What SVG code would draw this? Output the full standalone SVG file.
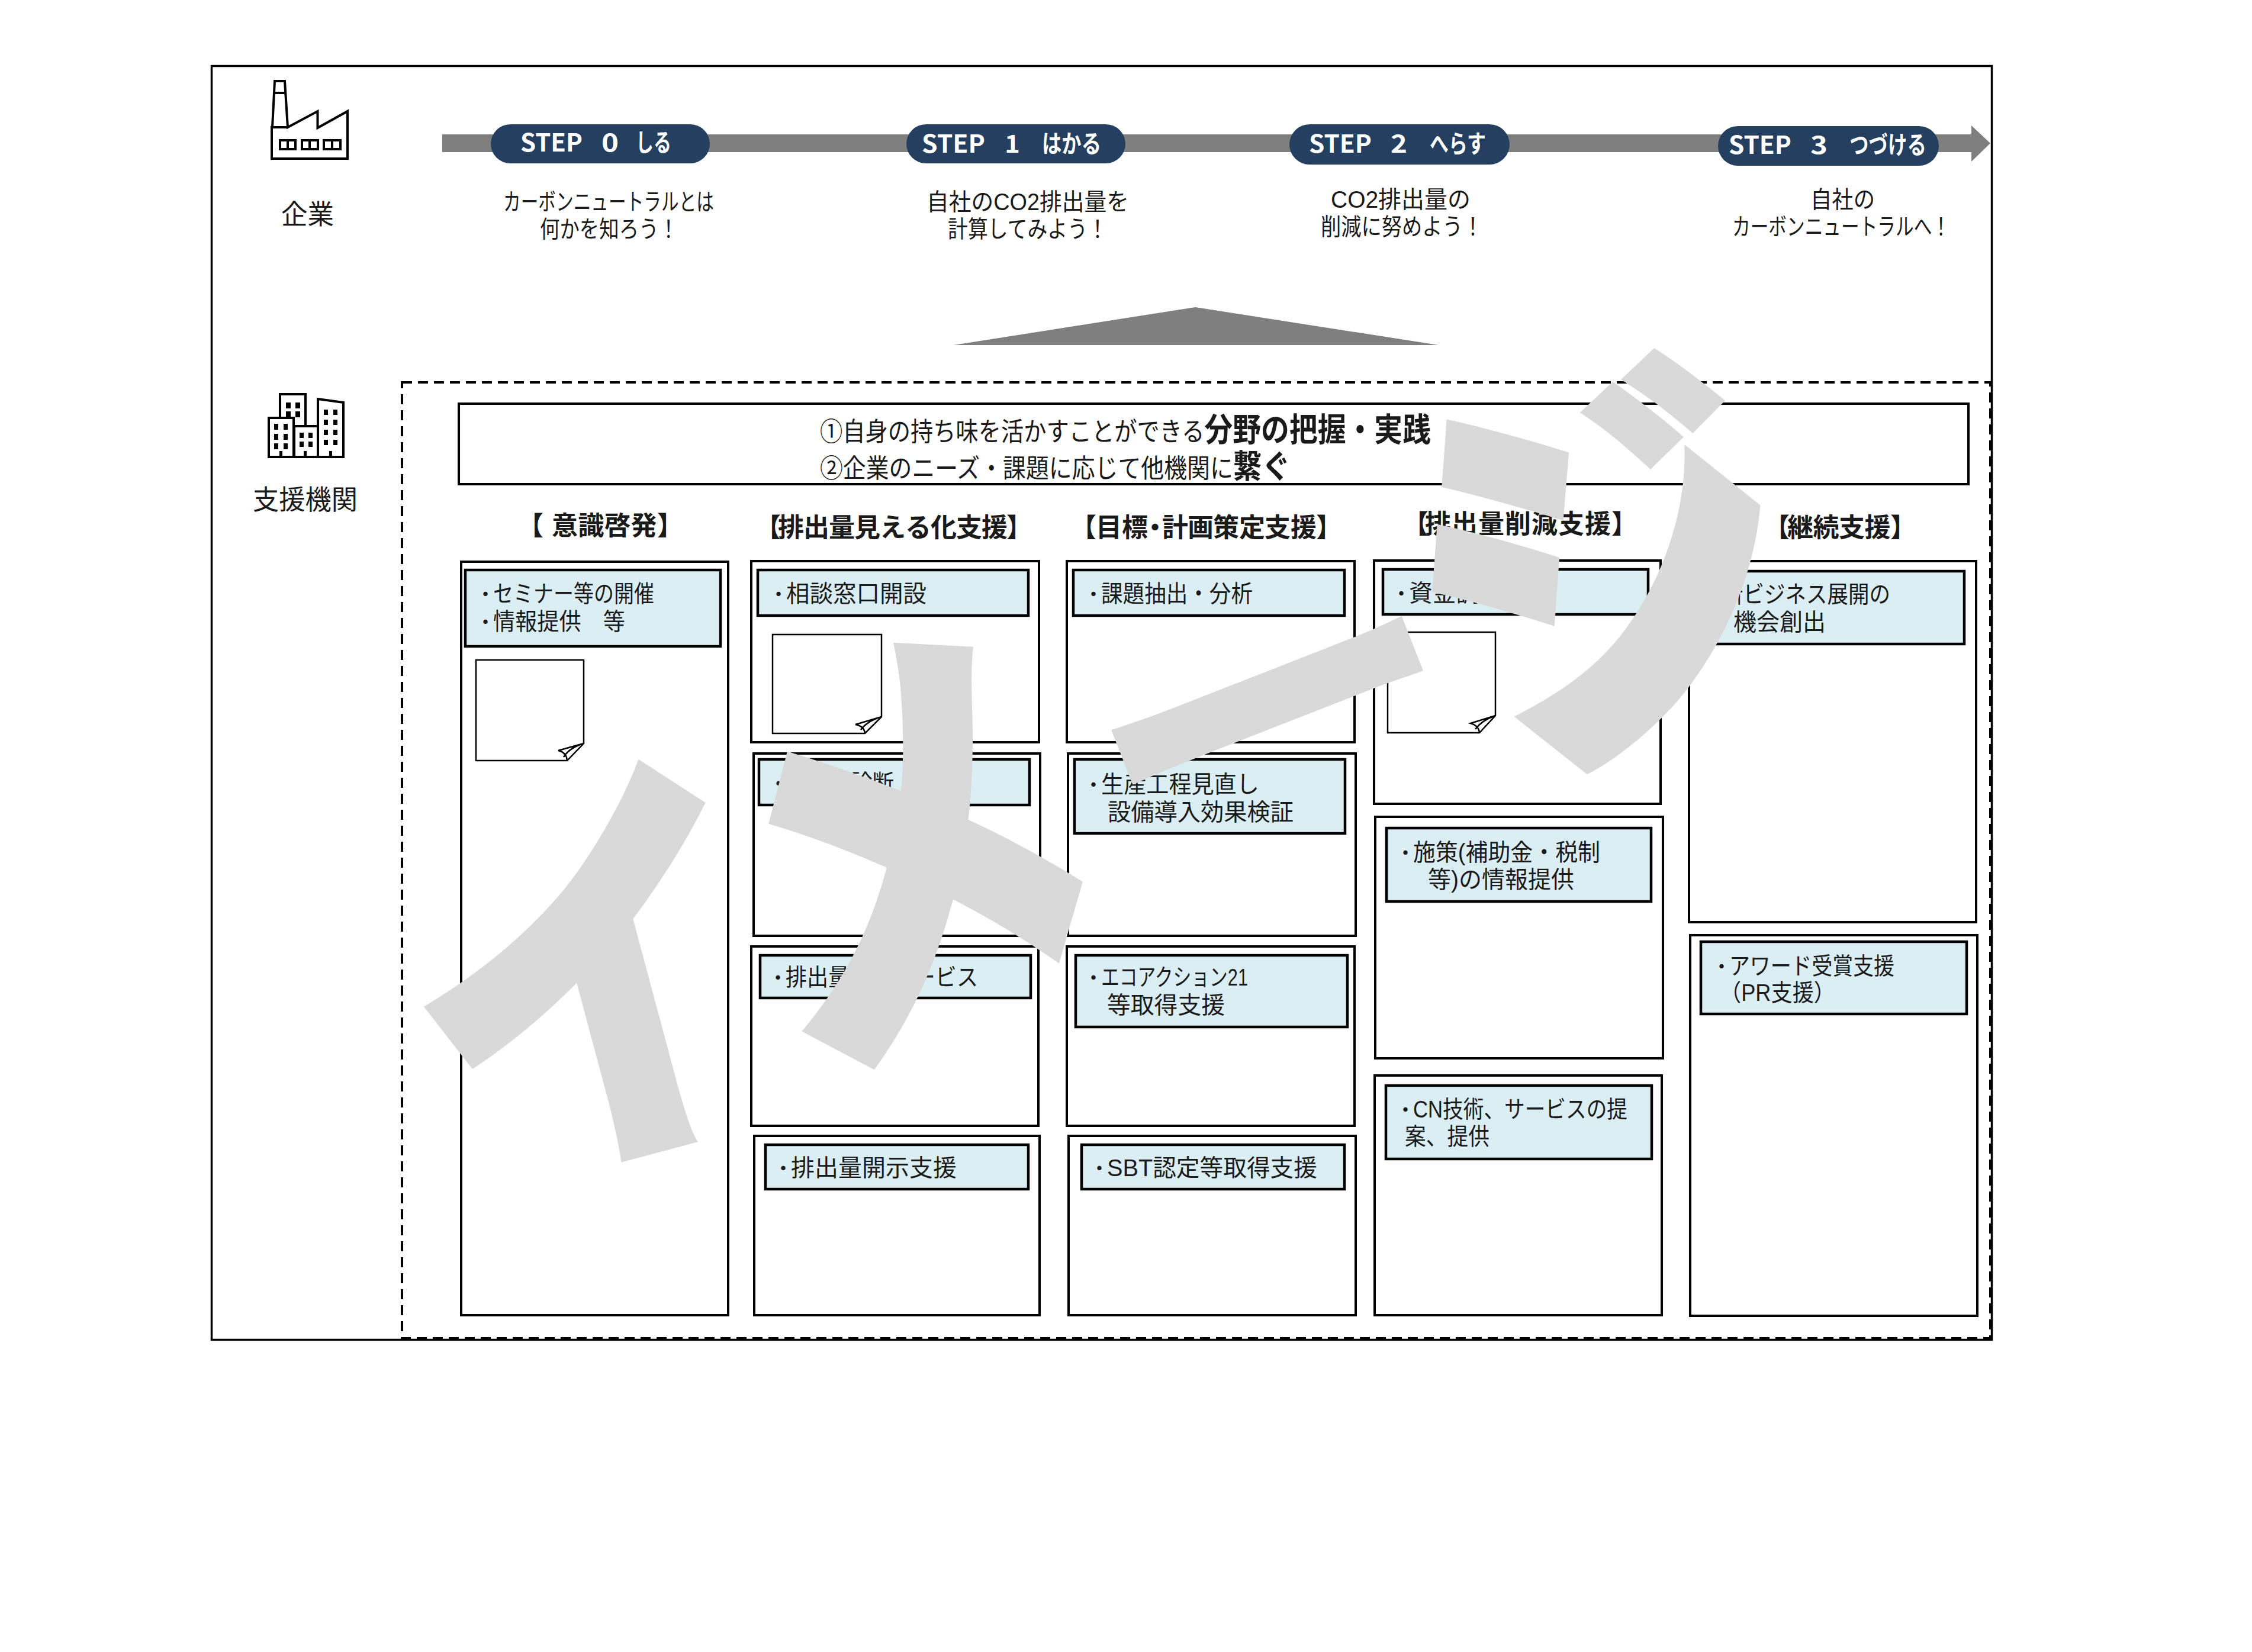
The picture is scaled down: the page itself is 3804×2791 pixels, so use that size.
<svg xmlns="http://www.w3.org/2000/svg" width="3804" height="2791" viewBox="0 0 3804 2791">
<style>
text{font-family:"Liberation Sans","Noto Sans CJK JP","Noto Sans",sans-serif;fill:#1a1a1a;white-space:pre}
.b{font-size:40px}
.d{font-size:26px;font-weight:900;font-family:"Noto Sans CJK JP",sans-serif}
.s{font-size:40px}
.h{font-size:44px;font-weight:700}
.t{font-size:44px}
.tb{font-size:55px;font-weight:700}
.p{font-size:42px;font-weight:700;fill:#fff;font-family:"Noto Sans CJK JP","Noto Sans",sans-serif}
.l{font-size:46px}
.box{fill:#fff;stroke:#000;stroke-width:4}
.blue{fill:#dbeef4;stroke:#000;stroke-width:4.5}
.note{fill:#fff;stroke:#000;stroke-width:2.5}
.fold{fill:none;stroke:#000;stroke-width:2.5}
.pill{fill:#243f60}
.ic{fill:#fff;stroke:#000;stroke-width:4}
.wm{font-size:760px;font-weight:900;fill:#d9d9d9;stroke:#d9d9d9;stroke-width:14;text-anchor:middle;font-family:"Noto Sans CJK JP",sans-serif}
</style>
<rect id="frame" x="357.500" y="111.500" width="3007" height="2152" fill="#fff" stroke="#000" stroke-width="3.500"/>

<g id="company-icon">
<path class="ic" d="M459,268H587V188L536.500,216V188L486,215L481,137H464L460,215H459Z"/>
<path class="ic" d="M462,157H483M460,215H486" fill="none"/>
<path class="ic" d="M473,237H499V252H473ZM510,237H537V252H510ZM547,237H575V252H547ZM486,237V252M523,237V252M561,237V252"/>
</g>
<text id="company-label" class="l" x="475" y="378" textLength="89" lengthAdjust="spacingAndGlyphs">企業</text>

<g id="support-icon">
<path class="ic" d="M473,706V666H516V720M537,772V674L580,680V772ZM454,772V706H496V772ZM497,772V720H537V772Z"/>
<path d="M483,680h8v10h-8zM499,680h8v10h-8zM483,695h8v10h-8zM499,695h8v10h-8zM463,716h7v10h-7zM479,716h7v10h-7zM463,733h7v10h-7zM479,733h7v10h-7zM463,749h7v10h-7zM479,749h7v10h-7zM506,731h7v9h-7zM521,731h7v9h-7zM506,746h7v9h-7zM521,746h7v9h-7zM547,692h7v9h-7zM563,692h7v9h-7zM547,709h7v9h-7zM563,709h7v9h-7zM547,726h7v9h-7zM563,726h7v9h-7zM547,743h7v9h-7zM563,743h7v9h-7zM472,762h5v10h-5zM513,762h5v10h-5zM556,762h5v10h-5z" fill="#000"/>
</g>
<text id="support-label" class="l" x="427" y="860" textLength="177" lengthAdjust="spacingAndGlyphs">支援機関</text>

<g id="timeline">
<path d="M747,227H3330V212L3362,242L3330,273V257H747Z" fill="#7f7f7f"/>
</g>

<g id="step0"><rect class="pill" x="829" y="210" width="370" height="66" rx="33"/>
<text class="p" y="256"><tspan x="879" textLength="105" lengthAdjust="spacingAndGlyphs">STEP</tspan><tspan> </tspan><tspan x="1016" textLength="29" lengthAdjust="spacingAndGlyphs">0</tspan><tspan> </tspan><tspan x="1074" textLength="60" lengthAdjust="spacingAndGlyphs">しる</tspan></text></g>
<g id="step1"><rect class="pill" x="1531" y="210" width="370" height="66" rx="33"/>
<text class="p" y="258"><tspan x="1557" textLength="107" lengthAdjust="spacingAndGlyphs">STEP</tspan><tspan> </tspan><tspan x="1697" textLength="26" lengthAdjust="spacingAndGlyphs">1</tspan><tspan> </tspan><tspan x="1760" textLength="100" lengthAdjust="spacingAndGlyphs">はかる</tspan></text></g>
<g id="step2"><rect class="pill" x="2178" y="210" width="372" height="68" rx="34"/>
<text class="p" y="258"><tspan x="2211" textLength="106" lengthAdjust="spacingAndGlyphs">STEP</tspan><tspan> </tspan><tspan x="2349" textLength="28" lengthAdjust="spacingAndGlyphs">2</tspan><tspan> </tspan><tspan x="2415" textLength="95" lengthAdjust="spacingAndGlyphs">へらす</tspan></text></g>
<g id="step3"><rect class="pill" x="2902" y="213" width="373" height="67" rx="33.500"/>
<text class="p" y="260"><tspan x="2920" textLength="106" lengthAdjust="spacingAndGlyphs">STEP</tspan><tspan> </tspan><tspan x="3058" textLength="29" lengthAdjust="spacingAndGlyphs">3</tspan><tspan> </tspan><tspan x="3124" textLength="130" lengthAdjust="spacingAndGlyphs">つづける</tspan></text></g>

<g id="step-captions">
<text class="s" x="850" y="355" textLength="356" lengthAdjust="spacingAndGlyphs">カーボンニュートラルとは</text>
<text class="s" x="912" y="401" textLength="234" lengthAdjust="spacingAndGlyphs">何かを知ろう！</text>
<text class="s" x="1565" y="355" textLength="342" lengthAdjust="spacingAndGlyphs">自社のCO2排出量を</text>
<text class="s" x="1601" y="401" textLength="270" lengthAdjust="spacingAndGlyphs">計算してみよう！</text>
<text class="s" x="2248" y="351" textLength="236" lengthAdjust="spacingAndGlyphs">CO2排出量の</text>
<text class="s" x="2231" y="397" textLength="274" lengthAdjust="spacingAndGlyphs">削減に努めよう！</text>
<text class="s" x="3058" y="351" textLength="109" lengthAdjust="spacingAndGlyphs">自社の</text>
<text class="s" x="2926" y="397" textLength="368" lengthAdjust="spacingAndGlyphs">カーボンニュートラルへ！</text>
</g>

<path id="up-triangle" d="M2019,519L2430,583H1611Z" fill="#7f7f7f"/>

<rect id="support-area" x="679" y="646" width="2683" height="1615" fill="none" stroke="#000" stroke-width="4" stroke-dasharray="17 10"/>

<g id="summary">
<rect class="box" x="775" y="682" width="2550" height="136"/>
<text class="t" x="1385" y="745" textLength="1032" lengthAdjust="spacingAndGlyphs">①自身の持ち味を活かすことができる<tspan class="tb">分野の把握・実践</tspan></text>
<text class="t" x="1385" y="807" textLength="795" lengthAdjust="spacingAndGlyphs">②企業のニーズ・課題に応じて他機関に<tspan class="tb">繋ぐ</tspan></text>
</g>

<g id="headings">
<text class="h" x="874 932 976.500 1021 1065.500 1110" y="904">【意識啓発】</text>
<text class="h" x="1275 1314 1357 1400 1443 1486 1529 1572 1615 1658 1700" y="907">【排出量見える化支援】</text>
<text class="h" x="1808 1851 1895 1929 1963 2006 2049 2093 2136 2180 2223" y="907">【目標・計画策定支援】</text>
<text class="h" x="2369 2407 2452 2497 2542 2587 2632 2677 2722" y="901">【排出量削減支援】</text>
<text class="h" x="2979 3019 3062.500 3106 3149.500 3193" y="907">【継続支援】</text>
</g>

<g id="c1">
<rect class="box" x="779" y="949" width="451" height="1273"/>
<rect class="blue" x="786" y="963" width="431" height="129"/>
<text class="b"><tspan class="d" x="807" y="1013">・</tspan><tspan x="833" y="1017" textLength="272" lengthAdjust="spacingAndGlyphs">セミナー等の開催</tspan></text>
<text class="b"><tspan class="d" x="807" y="1060">・</tspan><tspan x="833" y="1064" textLength="223" lengthAdjust="spacingAndGlyphs">情報提供　等</tspan></text>
<path class="note" d="M804,1115H986V1256L958,1285H804Z"/>
<path class="fold" d="M986,1256L943,1268Q957,1271 958,1285M986,1256Q962,1263 952,1279"/>
</g>

<g id="c2a">
<rect class="box" x="1269" y="948" width="486" height="306"/>
<rect class="blue" x="1280" y="963" width="457" height="77"/>
<text class="b"><tspan class="d" x="1302" y="1013">・</tspan><tspan x="1328" y="1017" textLength="237" lengthAdjust="spacingAndGlyphs">相談窓口開設</tspan></text>
<path class="note" d="M1305,1072H1489V1211L1461,1239H1305Z"/>
<path class="fold" d="M1489,1211L1445,1224Q1460,1227 1461,1239M1489,1211Q1465,1218 1454,1233"/>
</g>
<g id="c2b">
<rect class="box" x="1273" y="1273" width="484" height="308"/>
<rect class="blue" x="1282" y="1283" width="457" height="77"/>
<text class="b"><tspan class="d" x="1302" y="1333">・</tspan><tspan x="1328" y="1337" textLength="182" lengthAdjust="spacingAndGlyphs">省エネ診断</tspan></text>
</g>
<g id="c2c">
<rect class="box" x="1269" y="1599" width="485" height="303"/>
<rect class="blue" x="1284" y="1614" width="457" height="72"/>
<text class="b"><tspan class="d" x="1301" y="1661">・</tspan><tspan x="1327" y="1665" textLength="325" lengthAdjust="spacingAndGlyphs">排出量算定サービス</tspan></text>
</g>
<g id="c2d">
<rect class="box" x="1274" y="1919" width="482" height="303"/>
<rect class="blue" x="1293" y="1934" width="444" height="75"/>
<text class="b"><tspan class="d" x="1310" y="1983">・</tspan><tspan x="1336" y="1987" textLength="280" lengthAdjust="spacingAndGlyphs">排出量開示支援</tspan></text>
</g>

<g id="c3a">
<rect class="box" x="1802" y="948" width="486" height="306"/>
<rect class="blue" x="1813" y="963" width="458" height="77"/>
<text class="b"><tspan class="d" x="1834" y="1013">・</tspan><tspan x="1860" y="1017" textLength="256" lengthAdjust="spacingAndGlyphs">課題抽出・分析</tspan></text>
</g>
<g id="c3b">
<rect class="box" x="1804" y="1273" width="486" height="308"/>
<rect class="blue" x="1815" y="1283" width="457" height="125"/>
<text class="b"><tspan class="d" x="1834" y="1335">・</tspan><tspan x="1860" y="1339" textLength="267" lengthAdjust="spacingAndGlyphs">生産工程見直し</tspan></text>
<text class="b" x="1871" y="1386" textLength="314" lengthAdjust="spacingAndGlyphs">設備導入効果検証</text>
</g>
<g id="c3c">
<rect class="box" x="1802" y="1599" width="486" height="303"/>
<rect class="blue" x="1817" y="1614" width="459" height="121"/>
<text class="b"><tspan class="d" x="1834" y="1661">・</tspan><tspan x="1860" y="1665" textLength="248" lengthAdjust="spacingAndGlyphs">エコアクション21</tspan></text>
<text class="b" x="1870" y="1712" textLength="199" lengthAdjust="spacingAndGlyphs">等取得支援</text>
</g>
<g id="c3d">
<rect class="box" x="1805" y="1919" width="485" height="303"/>
<rect class="blue" x="1827" y="1934" width="444" height="75"/>
<text class="b"><tspan class="d" x="1844" y="1983">・</tspan><tspan x="1870" y="1987" textLength="355" lengthAdjust="spacingAndGlyphs">SBT認定等取得支援</tspan></text>
</g>

<g id="c4a">
<rect class="box" x="2321" y="947" width="484" height="411"/>
<rect class="blue" x="2336" y="962" width="448" height="76"/>
<text class="b"><tspan class="d" x="2354" y="1012">・</tspan><tspan x="2380" y="1016" textLength="239" lengthAdjust="spacingAndGlyphs">資金調達支援</tspan></text>
<path class="note" d="M2344,1068H2526V1209L2499,1238H2344Z"/>
<path class="fold" d="M2526,1209L2484,1222Q2498,1226 2499,1238M2526,1209Q2503,1217 2492,1232"/>
</g>
<g id="c4b">
<rect class="box" x="2323" y="1380" width="486" height="408"/>
<rect class="blue" x="2342" y="1399" width="447" height="124"/>
<text class="b"><tspan class="d" x="2361" y="1450">・</tspan><tspan x="2387" y="1454" textLength="316" lengthAdjust="spacingAndGlyphs">施策(補助金・税制</tspan></text>
<text class="b" x="2412" y="1500" textLength="247" lengthAdjust="spacingAndGlyphs">等)の情報提供</text>
</g>
<g id="c4c">
<rect class="box" x="2322" y="1817" width="485" height="405"/>
<rect class="blue" x="2341" y="1834" width="449" height="124"/>
<text class="b"><tspan class="d" x="2361" y="1884">・</tspan><tspan x="2387" y="1888" textLength="362" lengthAdjust="spacingAndGlyphs">CN技術、サービスの提</tspan></text>
<text class="b" x="2373" y="1934" textLength="143" lengthAdjust="spacingAndGlyphs">案、提供</text>
</g>

<g id="c5a">
<rect class="box" x="2853" y="948" width="485" height="610"/>
<rect class="blue" x="2866" y="965" width="452" height="123"/>
<text class="b"><tspan class="d" x="2883" y="1014">・</tspan><tspan x="2909" y="1018" textLength="284" lengthAdjust="spacingAndGlyphs">新ビジネス展開の</tspan></text>
<text class="b" x="2928" y="1065" textLength="156" lengthAdjust="spacingAndGlyphs">機会創出</text>
</g>
<g id="c5b">
<rect class="box" x="2855" y="1580" width="485" height="643"/>
<rect class="blue" x="2873" y="1591" width="449" height="122"/>
<text class="b"><tspan class="d" x="2895" y="1642">・</tspan><tspan x="2921" y="1646" textLength="279" lengthAdjust="spacingAndGlyphs">アワード受賞支援</tspan></text>
<text class="b" x="2905" y="1691" textLength="195" lengthAdjust="spacingAndGlyphs">（PR支援）</text>
</g>

<g id="watermark">
<text class="wm" transform="translate(1072,1912) rotate(-15) scale(.82,.95)">イ</text>
<text class="wm" transform="translate(1618,1698) rotate(-20) scale(.81,.99)">メ</text>
<text class="wm" transform="translate(2207,1352) rotate(-21.400) scale(.82,.62)">ー</text>
<text class="wm" transform="translate(2851,1203) rotate(-16) skewX(12) scale(.84,.95)">ジ</text>
</g>
</svg>
